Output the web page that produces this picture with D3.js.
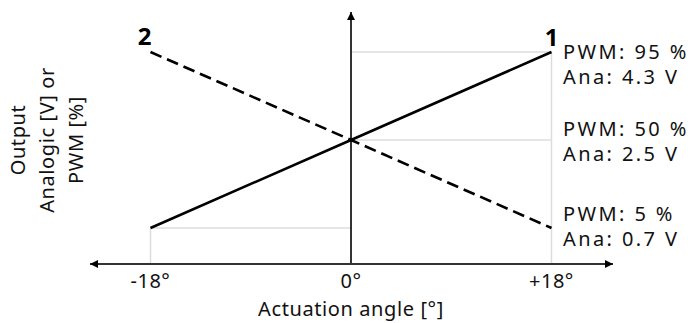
<!DOCTYPE html>
<html>
<head>
<meta charset="utf-8">
<script src="https://cdn.jsdelivr.net/npm/d3@7"></script>
<style>
  body { margin: 0; background: #fff; }
  svg { display: block; font-family: "Noto Sans", sans-serif; }
</style>
</head>
<body>
<svg width="691" height="323"></svg>
<script>
// Data
const angles = [-18, 0, 18];
const output1 = [5, 50, 95];   // curve 1 (solid), %
const output2 = [95, 50, 5];   // curve 2 (dashed), %
const levelValues = [95, 50, 5];
const levelLabels = [
  ["PWM: 95 %", "Ana: 4.3 V"],
  ["PWM: 50 %", "Ana: 2.5 V"],
  ["PWM: 5 %", "Ana: 0.7 V"]
];
const xTickValues = [-18, 0, 18];
const xTickLabels = ["-18°", "0°", "+18°"];
const curveNames = ["1", "2"];

const svg = d3.select("svg");

// Scales
const x = d3.scaleLinear().domain([-18, 18]).range([150.5, 551.5]);
const y = d3.scaleLinear().domain([5, 95]).range([228, 52]);

const axisY = 264;      // horizontal axis position
const axisTop = 12;     // tip of vertical arrow
const xLeft = 90, xRight = 613;

// Arrow markers
const defs = svg.append("defs");
defs.append("marker")
  .attr("id", "arrow")
  .attr("viewBox", "0 0 10 10")
  .attr("refX", 10).attr("refY", 5)
  .attr("markerWidth", 13).attr("markerHeight", 8)
  .attr("markerUnits", "userSpaceOnUse")
  .attr("orient", "auto-start-reverse")
  .append("path")
  .attr("d", "M0,0L10,5L0,10Z")
  .attr("fill", "#000");

// Light guide lines
const grid = svg.append("g").attr("stroke", "#dcdcdc").attr("stroke-width", 1.5).attr("fill", "none");
grid.append("line").attr("x1", x(0)).attr("x2", x(18)).attr("y1", y(95)).attr("y2", y(95));
grid.append("line").attr("x1", x(0)).attr("x2", x(18)).attr("y1", y(50)).attr("y2", y(50));
grid.append("line").attr("x1", x(-18)).attr("x2", x(0)).attr("y1", y(5)).attr("y2", y(5));
grid.append("line").attr("x1", x(18)).attr("x2", x(18)).attr("y1", y(95)).attr("y2", axisY);
grid.append("line").attr("x1", x(-18)).attr("x2", x(-18)).attr("y1", y(5)).attr("y2", axisY);

// Axes with arrows
svg.append("line")
  .attr("x1", xLeft).attr("x2", xRight).attr("y1", axisY).attr("y2", axisY)
  .attr("stroke", "#333").attr("stroke-width", 2)
  .attr("marker-start", "url(#arrow)").attr("marker-end", "url(#arrow)");
svg.append("line")
  .attr("x1", x(0)).attr("x2", x(0)).attr("y1", axisY).attr("y2", axisTop)
  .attr("stroke", "#333").attr("stroke-width", 2)
  .attr("marker-end", "url(#arrow)");

// Tick labels
svg.append("g").selectAll("text")
  .data(xTickValues)
  .join("text")
  .attr("x", d => x(d))
  .attr("y", 288)
  .attr("text-anchor", "middle")
  .attr("font-size", 20)
  .attr("letter-spacing", 0.5)
  .attr("fill", "#111")
  .text((d, i) => xTickLabels[i]);

// Curves
const line = d3.line().x(d => x(d[0])).y(d => y(d[1]));
svg.append("path")
  .datum(angles.map((a, i) => [a, output1[i]]))
  .attr("fill", "none").attr("stroke", "#000").attr("stroke-width", 2.6)
  .attr("d", line);
svg.append("path")
  .datum(angles.map((a, i) => [a, output2[i]]))
  .attr("fill", "none").attr("stroke", "#000").attr("stroke-width", 2.6)
  .attr("stroke-dasharray", "12,6")
  .attr("d", line);

// Curve numbers
svg.append("text").attr("x", x(18) + 7).attr("y", 46)
  .attr("text-anchor", "end").attr("font-size", 24).attr("font-weight", "bold")
  .text(curveNames[0]);
svg.append("text").attr("x", x(-18) + 1).attr("y", 45)
  .attr("text-anchor", "end").attr("font-size", 24).attr("font-weight", "bold")
  .text(curveNames[1]);

// Level labels on the right
const labelDy = [7, -4, -7];
const lv = svg.append("g").attr("font-size", 20).attr("letter-spacing", 2.4).attr("fill", "#111");
levelValues.forEach((v, i) => {
  levelLabels[i].forEach((t, j) => {
    lv.append("text")
      .attr("x", 563)
      .attr("y", y(v) + labelDy[i] + j * 25)
      .text(t);
  });
});

// Axis titles
svg.append("text")
  .attr("x", x(0)).attr("y", 316)
  .attr("text-anchor", "middle").attr("font-size", 20).attr("letter-spacing", 0.6).attr("fill", "#111")
  .text("Actuation angle [°]");

const yTitle = svg.append("text")
  .attr("transform", `translate(0,${y(50)}) rotate(-90)`)
  .attr("text-anchor", "middle").attr("font-size", 20).attr("letter-spacing", 0.6).attr("fill", "#111");
["Output", "Analogic [V] or", "PWM [%]"].forEach((t, i) => {
  yTitle.append("tspan").attr("x", 0).attr("y", 25 + i * 29).text(t);
});
</script>
</body>
</html>
